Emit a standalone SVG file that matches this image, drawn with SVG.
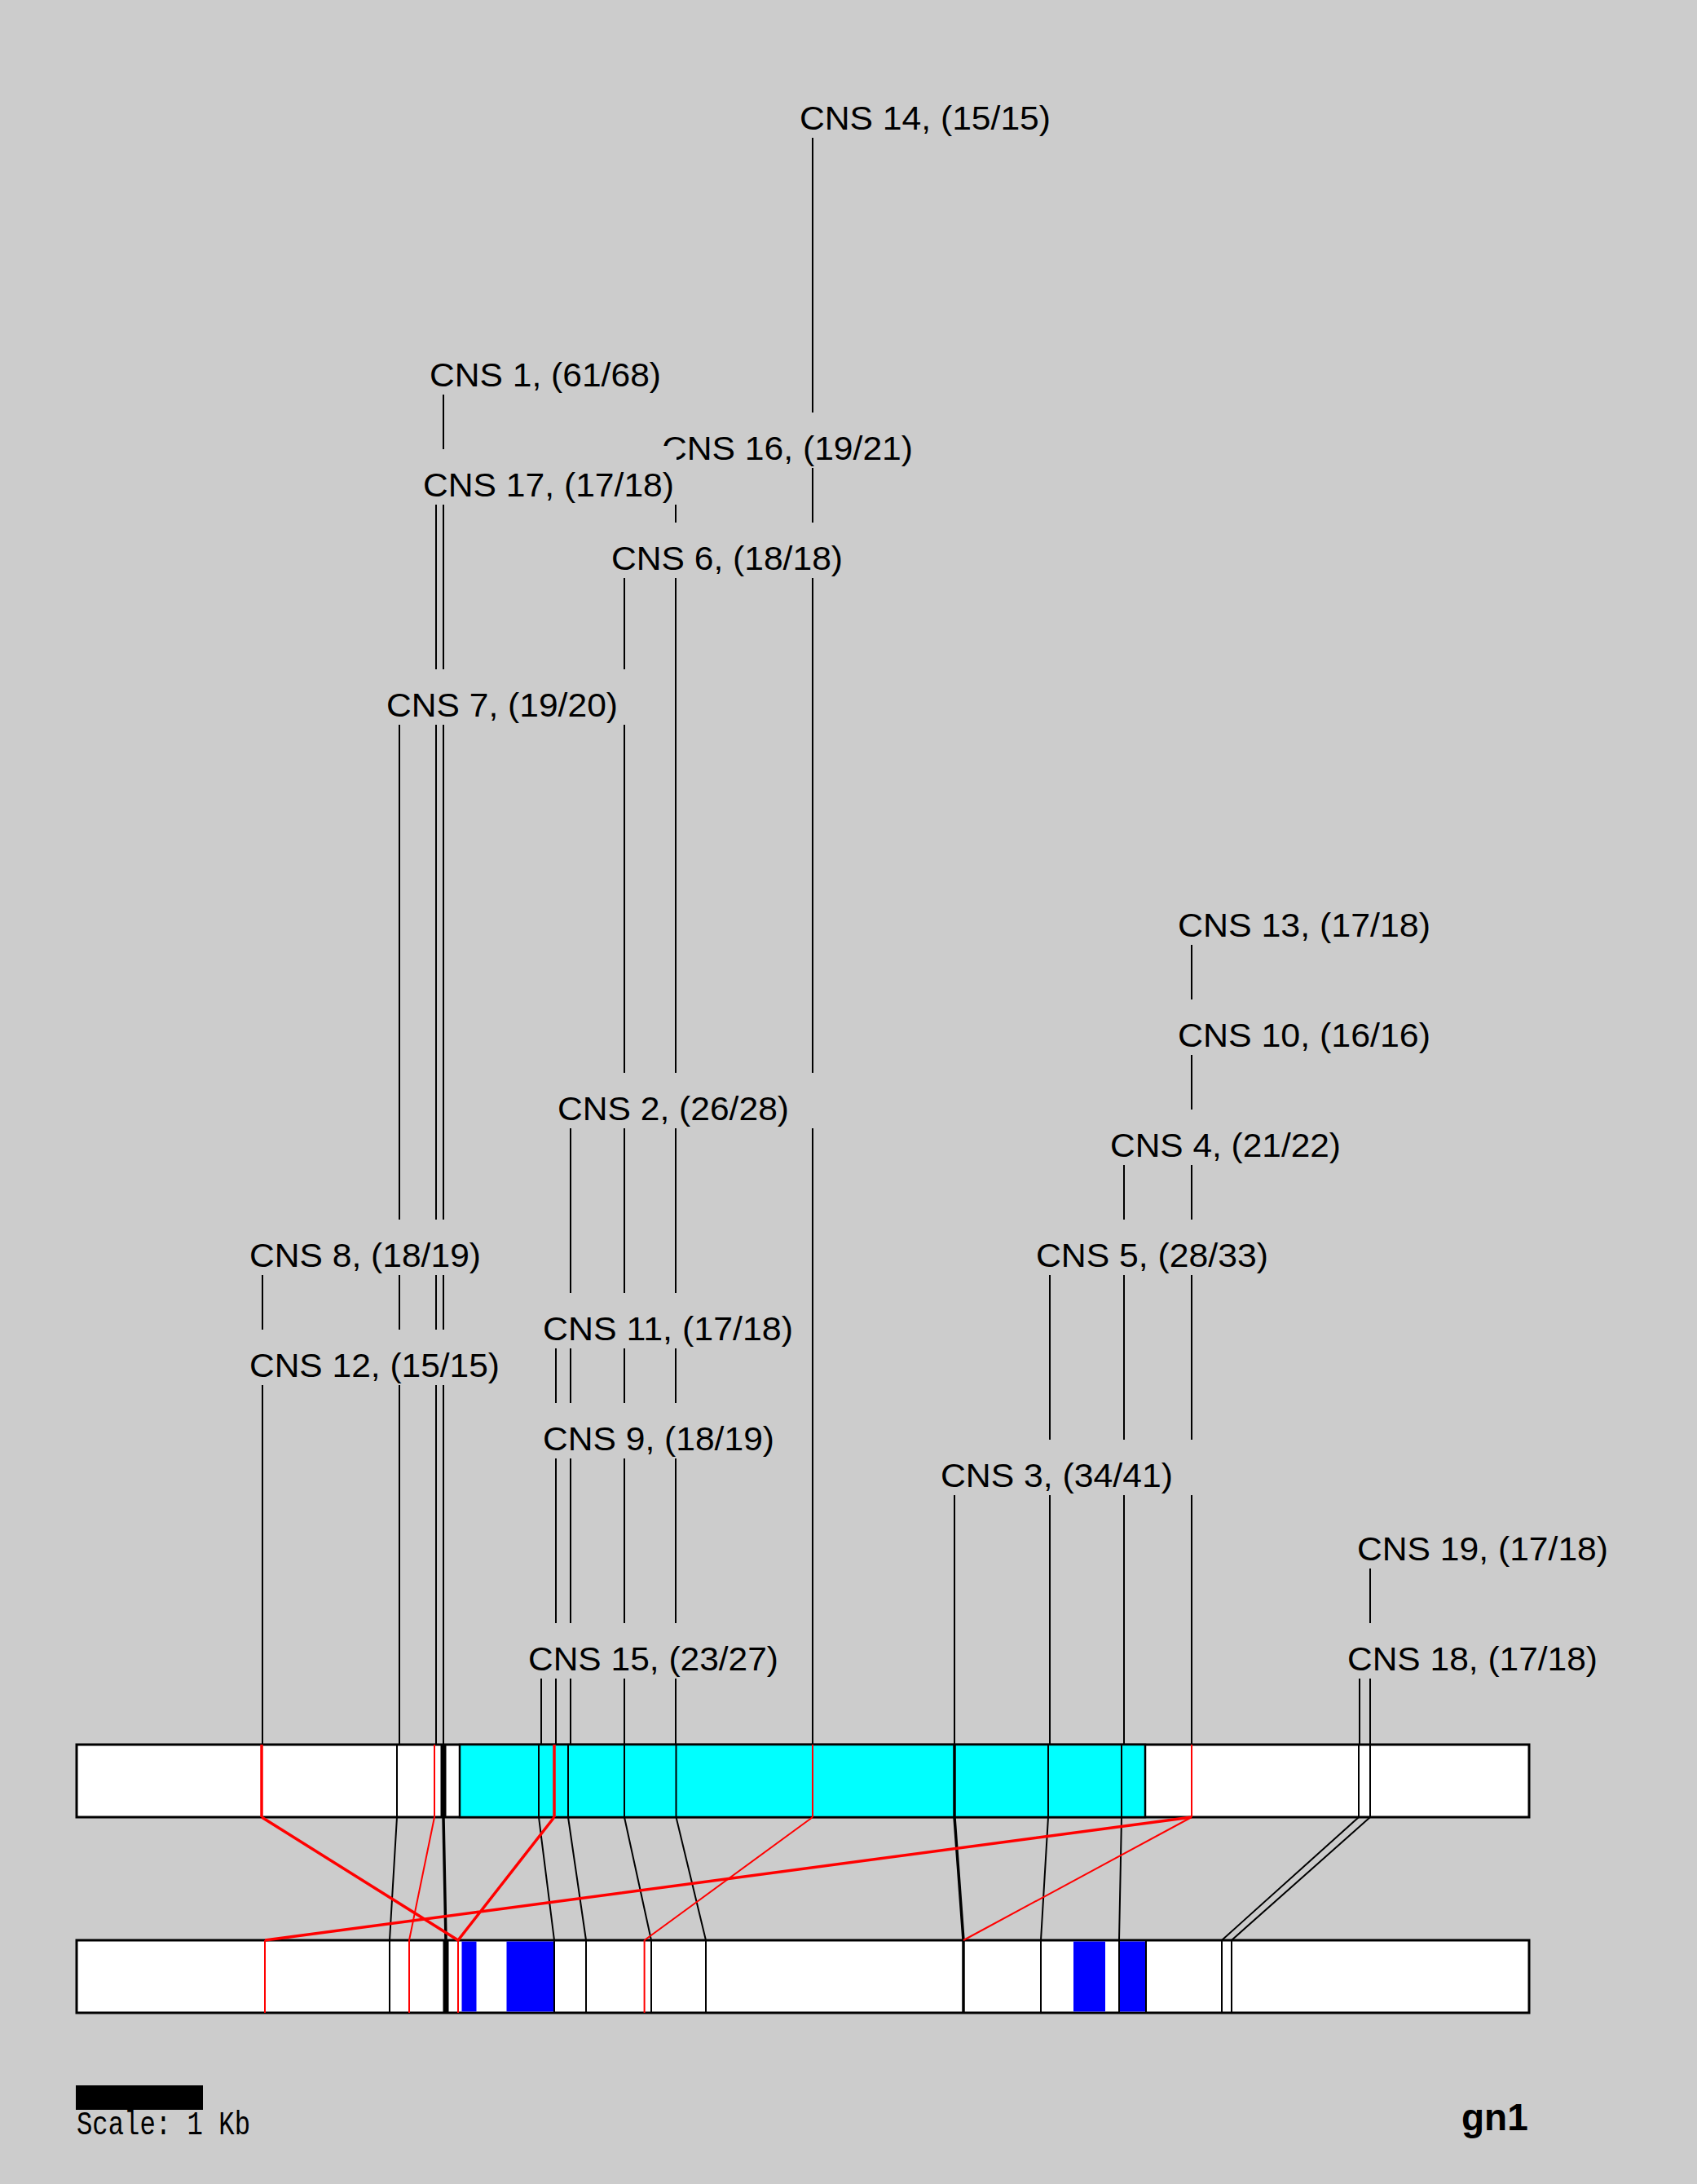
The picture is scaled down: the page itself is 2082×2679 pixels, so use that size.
<svg xmlns="http://www.w3.org/2000/svg" width="2082" height="2679" viewBox="0 0 2082 2679">
<style>
.lbl{font-family:"Liberation Sans",Arial,sans-serif;font-size:41px;fill:#000}
.k{stroke:#000;stroke-width:2;fill:none}
.kt{stroke:#000;stroke-width:3.5;fill:none}
.r{stroke:#f00;stroke-width:2;fill:none}
.rt{stroke:#f00;stroke-width:3.5;fill:none}
.box{fill:#fff;stroke:#000;stroke-width:3}
</style>
<rect width="2082" height="2679" fill="#cccccc"/>

<g id="gene-top">
<rect class="box" x="94" y="2140" width="1782" height="89"/>
<rect x="564" y="2140" width="841" height="89" fill="#00ffff" stroke="#000" stroke-width="2.5"/>
<path class="rt" d="M321 2140V2229M680 2140V2229"/>
<path class="r" d="M533 2140V2229M997 2140V2229M1462 2140V2229"/>
<path class="k" d="M487 2140V2229M661 2140V2229M697 2140V2229M766 2140V2229M829.5 2140V2229M1286 2140V2229M1376 2140V2229M1667 2140V2229M1681 2140V2229"/>
<path class="kt" d="M1171 2140V2229"/>
<rect x="540.5" y="2140" width="7" height="89" fill="#000"/>
</g>

<g id="gene-bottom">
<rect class="box" x="94" y="2380" width="1782" height="89"/>
<rect x="566.5" y="2381.5" width="18" height="86" fill="#0000ff"/>
<rect x="621.5" y="2381.5" width="58" height="86" fill="#0000ff"/>
<rect x="1317" y="2381.5" width="39" height="86" fill="#0000ff"/>
<rect x="1373" y="2381.5" width="33" height="86" fill="#0000ff"/>
<path class="r" d="M325 2380V2469M502 2380V2469M562 2380V2469M790.6 2380V2469"/>
<path class="k" d="M478 2380V2469M680 2380V2469M719 2380V2469M799 2380V2469M866 2380V2469M1277 2380V2469M1373 2380V2469M1406 2380V2469M1499 2380V2469M1511 2380V2469"/>
<path class="kt" d="M1182 2380V2469"/>
<rect x="543.5" y="2380" width="7" height="89" fill="#000"/>
</g>

<g id="connectors">
<path class="k" d="M997 169V506M997 574V641M997 709V1316M997 1384V2140
M544 484V551M544 619V821M544 889V1496M544 1564V1631M544 1699V2140
M535 619V821M535 889V1496M535 1564V1631M535 1699V2140
M490 889V1496M490 1564V1631M490 1699V2140
M322 1564V1631M322 1699V2140
M766 709V821M766 889V1316M766 1384V1586M766 1654V1721M766 1789V1991M766 2059V2140
M829 619V641M829 709V1316M829 1384V1586M829 1654V1721M829 1789V1991M829 2059V2140
M700 1384V1586M700 1654V1721M700 1789V1991M700 2059V2140
M682 1654V1721M682 1789V1991M682 2059V2140
M664 2059V2140
M1462 1159V1226M1462 1294V1361M1462 1429V1496M1462 1564V1766M1462 1834V2140
M1379 1429V1496M1379 1564V1766M1379 1834V2140
M1288 1564V1766M1288 1834V2140
M1171 1834V2140
M1681 1924V1991M1681 2059V2140
M1668 2059V2140"/>
<path class="k" d="M487 2229L478 2380M661 2229L680 2380M697 2229L719 2380M766 2229L799 2380M829.5 2229L866 2380M1286 2229L1277 2380M1376 2229L1373 2380M1667 2229L1499 2380M1681 2229L1511 2380"/>
<path class="kt" d="M544 2229L547 2380M1171 2229L1182 2380"/>
<path class="r" d="M533 2229L502 2380M997 2229L790.6 2380M1462 2229L1182 2380"/>
<path class="rt" d="M321 2229L562 2380M680 2229L562 2380M1462 2229L325 2380"/>
</g>

<g id="cns14"><text class="lbl" x="981" y="159" textLength="308" lengthAdjust="spacingAndGlyphs">CNS 14, (15/15)</text></g>
<g id="cns1"><text class="lbl" x="527" y="474" textLength="284" lengthAdjust="spacingAndGlyphs">CNS 1, (61/68)</text></g>
<g id="cns16"><text class="lbl" x="812" y="564" textLength="308" lengthAdjust="spacingAndGlyphs">CNS 16, (19/21)</text><rect x="806" y="547" width="24" height="29" fill="#cccccc"/></g>
<g id="cns17"><text class="lbl" x="519" y="609" textLength="308" lengthAdjust="spacingAndGlyphs">CNS 17, (17/18)</text></g>
<g id="cns6"><text class="lbl" x="750" y="699" textLength="284" lengthAdjust="spacingAndGlyphs">CNS 6, (18/18)</text></g>
<g id="cns7"><text class="lbl" x="474" y="879" textLength="284" lengthAdjust="spacingAndGlyphs">CNS 7, (19/20)</text></g>
<g id="cns13"><text class="lbl" x="1445" y="1149" textLength="310" lengthAdjust="spacingAndGlyphs">CNS 13, (17/18)</text></g>
<g id="cns10"><text class="lbl" x="1445" y="1284" textLength="310" lengthAdjust="spacingAndGlyphs">CNS 10, (16/16)</text></g>
<g id="cns2"><text class="lbl" x="684" y="1374" textLength="284" lengthAdjust="spacingAndGlyphs">CNS 2, (26/28)</text></g>
<g id="cns4"><text class="lbl" x="1362" y="1419" textLength="283" lengthAdjust="spacingAndGlyphs">CNS 4, (21/22)</text></g>
<g id="cns8"><text class="lbl" x="306" y="1554" textLength="284" lengthAdjust="spacingAndGlyphs">CNS 8, (18/19)</text></g>
<g id="cns5"><text class="lbl" x="1271" y="1554" textLength="285" lengthAdjust="spacingAndGlyphs">CNS 5, (28/33)</text></g>
<g id="cns11"><text class="lbl" x="666" y="1644" textLength="307" lengthAdjust="spacingAndGlyphs">CNS 11, (17/18)</text></g>
<g id="cns12"><text class="lbl" x="306" y="1689" textLength="307" lengthAdjust="spacingAndGlyphs">CNS 12, (15/15)</text></g>
<g id="cns9"><text class="lbl" x="666" y="1779" textLength="284" lengthAdjust="spacingAndGlyphs">CNS 9, (18/19)</text></g>
<g id="cns3"><text class="lbl" x="1154" y="1824" textLength="285" lengthAdjust="spacingAndGlyphs">CNS 3, (34/41)</text></g>
<g id="cns19"><text class="lbl" x="1665" y="1914" textLength="308" lengthAdjust="spacingAndGlyphs">CNS 19, (17/18)</text></g>
<g id="cns15"><text class="lbl" x="648" y="2049" textLength="307" lengthAdjust="spacingAndGlyphs">CNS 15, (23/27)</text></g>
<g id="cns18"><text class="lbl" x="1653" y="2049" textLength="307" lengthAdjust="spacingAndGlyphs">CNS 18, (17/18)</text></g>

<g id="scale">
<rect x="93" y="2558" width="156" height="30" fill="#000"/>
<text x="94" y="2618" font-family="'Liberation Mono','Courier New',monospace" font-size="40" textLength="213" lengthAdjust="spacingAndGlyphs" fill="#000">Scale: 1 Kb</text>
</g>
<g id="title"><text x="1793" y="2613" font-family="'Liberation Sans',Arial,sans-serif" font-size="46" font-weight="bold" fill="#000">gn1</text></g>
</svg>
